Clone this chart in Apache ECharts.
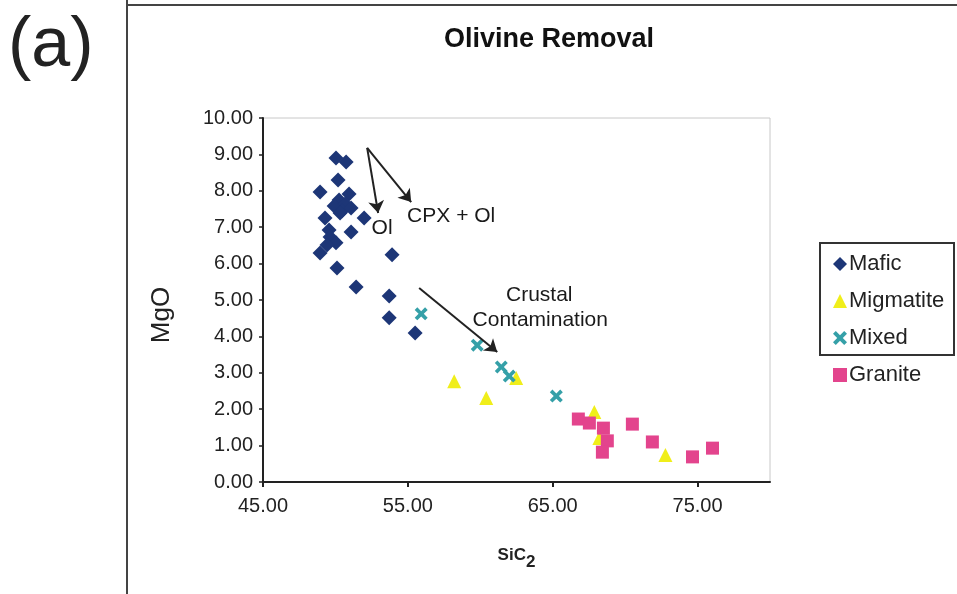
<!DOCTYPE html>
<html>
<head>
<meta charset="utf-8">
<script src="https://cdn.jsdelivr.net/npm/echarts@6/dist/echarts.min.js"></script>
<style>
  html, body { margin: 0; padding: 0; background: #fff; }
  #chart { width: 957px; height: 594px; }
</style>
</head>
<body>
<div id="chart"></div>
<script>
// SiO2 (x) vs MgO (y) for each rock group
const mafic = [
  [50.04, 8.90], [50.74, 8.79], [50.18, 8.30], [48.94, 7.97], [50.94, 7.91],
  [50.25, 7.75], [49.91, 7.58], [50.67, 7.64], [50.46, 7.45], [51.08, 7.53],
  [49.28, 7.25], [50.32, 7.39], [51.98, 7.25], [51.08, 6.87], [49.56, 6.92],
  [49.63, 6.73], [50.04, 6.57], [49.42, 6.51], [48.94, 6.29], [50.11, 5.88],
  [53.91, 6.24], [51.43, 5.36], [53.71, 5.11], [53.71, 4.51], [55.50, 4.09]
];
const migmatite = [
  [58.20, 2.77], [60.41, 2.31], [62.48, 2.86], [67.87, 1.92], [68.22, 1.21], [72.78, 0.74]
];
const mixed = [
  [55.92, 4.62], [59.79, 3.76], [61.45, 3.16], [62.00, 2.91], [65.25, 2.36]
];
const granite = [
  [66.77, 1.73], [67.53, 1.62], [68.50, 1.48], [68.77, 1.13], [68.43, 0.82],
  [70.50, 1.59], [71.88, 1.10], [74.65, 0.69], [76.03, 0.93]
];
const xTicks = [45, 55, 65, 75];

// trend arrows: [start, end] in data units
const arrows = [
  [[52.19, 9.18], [52.95, 7.39]],
  [[52.19, 9.18], [55.23, 7.69]],
  [[55.78, 5.33], [61.17, 3.57]]
];
// arrow captions
const notes = [
  [53.22, 6.98, 'Ol'],
  [57.99, 7.31, 'CPX + Ol'],
  [64.07, 5.14, 'Crustal'],
  [64.14, 4.45, 'Contamination']
];

const FONT = '"Liberation Sans", Arial, sans-serif';
const crossPath = 'path://M0,2L2,0L5,3L8,0L10,2L7,5L10,8L8,10L5,7L2,10L0,8L3,5Z';

const chart = echarts.init(document.getElementById('chart'), null, { renderer: 'canvas' });

chart.setOption({
  animation: false,
  backgroundColor: '#ffffff',
  textStyle: { fontFamily: FONT },
  grid: {
    left: 263, right: 187, top: 118, bottom: 112,
    show: true, borderColor: '#c8c8c8', borderWidth: 1
  },
  xAxis: {
    type: 'value', min: 45, max: 80, interval: 10,
    splitLine: { show: false },
    axisLine: { lineStyle: { color: '#222', width: 2 } },
    axisTick: { customValues: xTicks, length: 5, lineStyle: { color: '#222', width: 2 } },
    axisLabel: {
      customValues: xTicks, margin: 14, color: '#222', fontSize: 20,
      formatter: v => v.toFixed(2)
    },
    name: 'SiC{sub|2}', nameLocation: 'middle', nameGap: 58,
    nameTextStyle: {
      fontSize: 17, fontWeight: 'bold', color: '#222',
      rich: { sub: { fontSize: 17, fontWeight: 'bold', color: '#222', padding: [14, 0, 0, 0] } }
    }
  },
  yAxis: {
    type: 'value', min: 0, max: 10, interval: 1,
    splitLine: { show: false },
    axisLine: { lineStyle: { color: '#222', width: 2 } },
    axisTick: { length: 4, lineStyle: { color: '#222', width: 1.5 } },
    axisLabel: { margin: 10, color: '#222', fontSize: 20, formatter: v => v.toFixed(2) },
    name: 'MgO', nameLocation: 'middle', nameGap: 88, nameRotate: 90,
    nameTextStyle: { fontSize: 26, color: '#222', padding: [0, 30, 0, 0] }
  },
  legend: {
    orient: 'vertical', left: 828, top: 247,
    itemWidth: 14, itemHeight: 14, itemGap: 13,
    textStyle: { fontSize: 22, color: '#222', lineHeight: 24, padding: [0, 0, 0, -3] },
    data: ['Mafic', 'Migmatite', 'Mixed', 'Granite']
  },
  graphic: [
    { type: 'line', shape: { x1: 127, y1: 0, x2: 127, y2: 594 }, style: { stroke: '#444', lineWidth: 2 } },
    { type: 'line', shape: { x1: 127, y1: 5, x2: 957, y2: 5 }, style: { stroke: '#444', lineWidth: 2 } },
    { type: 'rect', shape: { x: 820, y: 243, width: 134, height: 112 }, style: { fill: 'none', stroke: '#333', lineWidth: 2 } },
    { type: 'text', left: 8, top: 12, style: { text: '(a)', font: '70px ' + FONT, fill: '#222' } },
    { type: 'text', x: 549, y: 40, style: { text: 'Olivine Removal', font: 'bold 27px ' + FONT, fill: '#111', textAlign: 'center', textVerticalAlign: 'middle' } }
  ],
  series: [
    {
      name: 'Mafic', type: 'scatter', data: mafic,
      symbol: 'diamond', symbolSize: 15,
      itemStyle: { color: '#1d3677', opacity: 1 }
    },
    {
      name: 'Migmatite', type: 'scatter', data: migmatite,
      symbol: 'triangle', symbolSize: 14,
      itemStyle: { color: '#f0ee1a', opacity: 1 }
    },
    {
      name: 'Mixed', type: 'scatter', data: mixed,
      symbol: crossPath, symbolSize: 13,
      itemStyle: { color: '#35a0a8', opacity: 1 }
    },
    {
      name: 'Granite', type: 'scatter', data: granite,
      symbol: 'rect', symbolSize: 13,
      itemStyle: { color: '#e3448d', opacity: 1 }
    },
    {
      name: 'notes', type: 'scatter', data: notes,
      symbolSize: 0, silent: true,
      itemStyle: { opacity: 1 },
      label: {
        show: true, position: 'inside', fontSize: 21, color: '#1a1a1a', opacity: 1,
        formatter: p => p.value[2]
      },
      markLine: {
        silent: true, symbol: ['none', 'arrow'], symbolSize: 12,
        lineStyle: { color: '#222', width: 2, type: 'solid', opacity: 1 },
        label: { show: false },
        data: arrows.map(a => [{ coord: a[0] }, { coord: a[1] }])
      }
    }
  ]
});
</script>
</body>
</html>
